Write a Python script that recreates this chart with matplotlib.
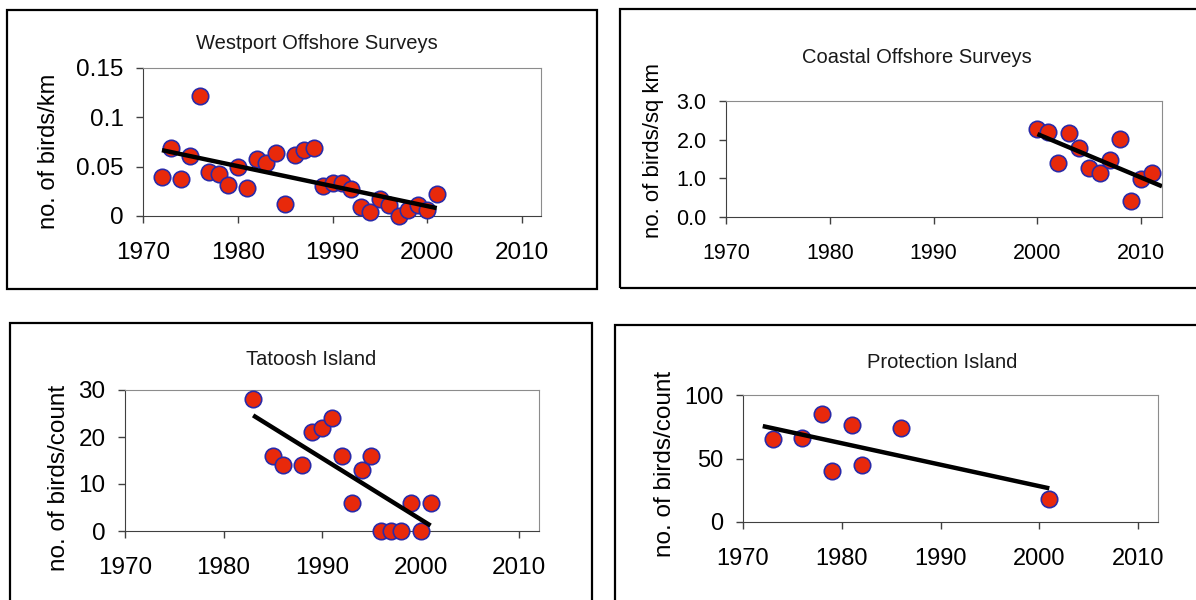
import matplotlib
matplotlib.use('Agg')
import matplotlib.pyplot as plt
import numpy as np
from matplotlib.patches import Rectangle

plt.rcParams['font.family'] = ['Liberation Sans', 'DejaVu Sans']

# Westport Offshore Surveys
west_years = [1972, 1973, 1974, 1975, 1976, 1977, 1978, 1979, 1980, 1981,
              1982, 1983, 1984, 1985, 1986, 1987, 1988, 1989, 1990, 1991,
              1992, 1993, 1994, 1995, 1996, 1997, 1998, 1999, 2000, 2001]
west_vals = [0.040, 0.069, 0.037, 0.061, 0.122, 0.045, 0.043, 0.031, 0.050, 0.028,
             0.058, 0.054, 0.064, 0.012, 0.062, 0.067, 0.069, 0.030, 0.033, 0.033,
             0.027, 0.009, 0.004, 0.017, 0.011, 0.000, 0.006, 0.011, 0.006, 0.022]

# Coastal Offshore Surveys
coast_years = [2000, 2001, 2002, 2003, 2004, 2005, 2006, 2007, 2008, 2009, 2010, 2011]
coast_vals = [2.28, 2.20, 1.40, 2.18, 1.79, 1.27, 1.15, 1.47, 2.03, 0.41, 0.99, 1.14]

# Tatoosh Island
tat_years = [1983, 1985, 1986, 1988, 1989, 1990, 1991, 1992, 1993, 1994,
             1995, 1996, 1997, 1998, 1999, 2000, 2001]
tat_vals = [28, 16, 14, 14, 21, 22, 24, 16, 6, 13, 16, 0, 0, 0, 6, 0, 6]

# Protection Island
prot_years = [1973, 1976, 1978, 1979, 1981, 1982, 1986, 2001]
prot_vals = [65, 66, 85, 40, 76, 45, 74, 18]

# trendline span (years) for each panel
trend_from = [1972, 2000, 1983, 1972]
trend_to = [2001, 2012, 2001, 2001]

titles = ['Westport Offshore Surveys', 'Coastal Offshore Surveys',
          'Tatoosh Island', 'Protection Island']
ylabels = ['no. of birds/km', 'no. of birds/sq km',
           'no. of birds/count', 'no. of birds/count']
yticks = [[0, 0.05, 0.1, 0.15], [0, 1, 2, 3], [0, 10, 20, 30], [0, 50, 100]]
yticklabels = [['0', '0.05', '0.1', '0.15'], ['0.0', '1.0', '2.0', '3.0'],
               ['0', '10', '20', '30'], ['0', '50', '100']]
xticks = [1970, 1980, 1990, 2000, 2010]

W, H = 1196, 600
fig = plt.figure(figsize=(W / 100, H / 100), dpi=100)

def px_rect(x0, y0, x1, y1):
    return [x0 / W, 1 - y1 / H, (x1 - x0) / W, (y1 - y0) / H]

# plot areas in pixels: left, top, right, bottom
areas = [(143, 68, 541, 216), (726, 101, 1162, 217),
         (125, 390, 539, 531), (743, 395, 1158, 522)]
frames = [(7, 10, 597, 289), (620, 9, 1205, 288),
          (10, 323, 592, 610), (615, 325, 1205, 610)]
title_pos = [(317, 49), (917, 63), (311, 365), (942, 368)]
ylabel_pos = [(49, 151), (654, 150), (59, 478), (665, 464)]
tick_fs = [17.5, 15.5, 17.5, 17]
ylab_fs = [17, 16, 17.5, 17.5]

data = [(west_years, west_vals), (coast_years, coast_vals),
        (tat_years, tat_vals), (prot_years, prot_vals)]

for i, (yrs, vals) in enumerate(data):
    ax = fig.add_axes(px_rect(*areas[i]))

    ax.scatter(yrs, vals, s=140, c='#e8290b', edgecolors='#2a2aa8',
               linewidths=1.2, zorder=3, clip_on=False)

    slope, icpt = np.polyfit(yrs, vals, 1)
    tx = np.array([trend_from[i], trend_to[i]])
    ax.plot(tx, slope * tx + icpt, color='black', lw=3.2, zorder=4,
            solid_capstyle='butt')

    ax.set_xlim(1970, 2012)
    ax.set_ylim(yticks[i][0], yticks[i][-1])
    ax.set_xticks(xticks)
    ax.set_yticks(yticks[i])
    ax.set_yticklabels(yticklabels[i])
    ax.tick_params(axis='both', direction='out', length=5, width=1,
                   color='#404040', labelsize=tick_fs[i])
    ax.tick_params(axis='x', pad=14)
    ax.tick_params(axis='y', pad=9)

    for side in ['left', 'bottom']:
        ax.spines[side].set_color('#404040')
    for side in ['top', 'right']:
        ax.spines[side].set_color('#8c8c8c')

    fig.text(title_pos[i][0] / W, 1 - title_pos[i][1] / H, titles[i],
             ha='center', va='baseline', fontsize=14.5, color='#1a1a1a')
    fig.text(ylabel_pos[i][0] / W, 1 - ylabel_pos[i][1] / H, ylabels[i],
             ha='center', va='center', rotation=90, fontsize=ylab_fs[i])

    fig.patches.append(Rectangle(px_rect(*frames[i])[:2], *px_rect(*frames[i])[2:],
                                 transform=fig.transFigure, fill=False,
                                 lw=1.6, ec='black'))

plt.savefig('out.png', dpi=100)
